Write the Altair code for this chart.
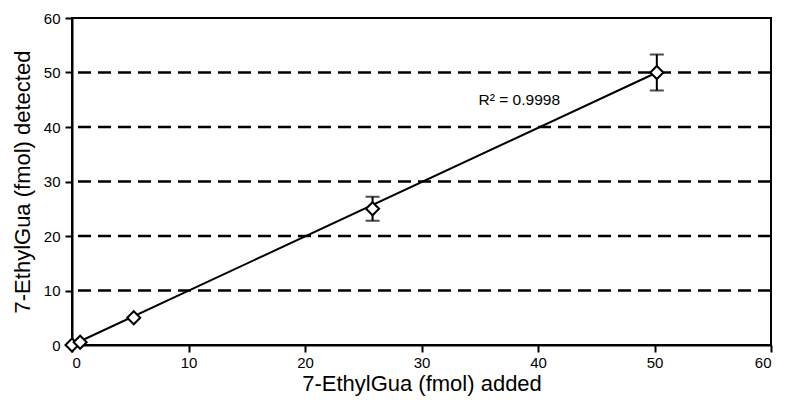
import altair as alt
import pandas as pd

x_added = [0.0, 0.7, 5.3, 25.8, 50.2]
y_detected = [0.0, 0.5, 5.0, 25.0, 50.0]
y_err = [0.0, 0.0, 0.0, 2.2, 3.3]
grid_vals = [10, 20, 30, 40, 50]
fit_x = [0.0, 50.2]
fit_y = [0.0, 50.0]
tick_vals = [0, 10, 20, 30, 40, 50, 60]

df = pd.DataFrame({"x": x_added, "y": y_detected, "lo": [a - b for a, b in zip(y_detected, y_err)],
                   "hi": [a + b for a, b in zip(y_detected, y_err)]})
dfe = df[df["lo"] != df["hi"]]
dfg = pd.DataFrame({"g": grid_vals})
dff = pd.DataFrame({"x": fit_x, "y": fit_y})

xs = alt.Scale(domain=[0, 60], nice=False)
ys = alt.Scale(domain=[0, 60], nice=False)

xax = alt.Axis(values=tick_vals, title="7-EthylGua (fmol) added", grid=False)
yax = alt.Axis(values=tick_vals, title="7-EthylGua (fmol) detected", grid=False)

grid = alt.Chart(dfg).mark_rule(color="black", strokeWidth=2.5, strokeDash=[13, 7]).encode(
    y=alt.Y("g:Q", scale=ys, axis=yax)
)
fit = alt.Chart(dff).mark_line(color="black", strokeWidth=2).encode(
    x=alt.X("x:Q", scale=xs, axis=xax), y=alt.Y("y:Q", scale=ys, axis=yax)
)
err = alt.Chart(dfe).mark_errorbar(ticks=alt.MarkConfig(size=14, color="black", strokeWidth=2),
                                   color="black", thickness=2).encode(
    x=alt.X("x:Q", scale=xs, axis=xax), y=alt.Y("lo:Q", scale=ys, axis=yax), y2="hi:Q"
)
pts = alt.Chart(df).mark_point(shape="diamond", filled=True, fill="white", stroke="black",
                               strokeWidth=2, size=170, opacity=1).encode(
    x=alt.X("x:Q", scale=xs, axis=xax), y=alt.Y("y:Q", scale=ys, axis=yax)
)
txt = alt.Chart(pd.DataFrame({"x": [34.9], "y": [45.0], "t": ["R² = 0.9998"]})).mark_text(
    font="Liberation Sans", fontSize=15.5, align="left", baseline="middle", color="black"
).encode(x=alt.X("x:Q", scale=xs), y=alt.Y("y:Q", scale=ys), text="t:N")

chart = alt.layer(grid, fit, err, pts, txt).properties(
    width=699, height=327,
    padding={"left": 64, "top": 10, "right": 9, "bottom": 52},
    autosize=alt.AutoSizeParams(type="none"),
).configure_view(stroke="black", strokeWidth=2).configure_axis(
    domainColor="black", domainWidth=2, tickColor="black", tickWidth=2, tickSize=7,
    labelFont="Liberation Sans", labelFontSize=15, labelColor="black",
    titleFont="Liberation Sans", titleFontSize=22, titleFontWeight="normal", titleColor="black",
).configure_axisX(labelPadding=3, titlePadding=3).configure_axisY(labelPadding=5, titlePadding=9)

chart.save("out.html", embed_options={"renderer": "svg", "actions": False})
